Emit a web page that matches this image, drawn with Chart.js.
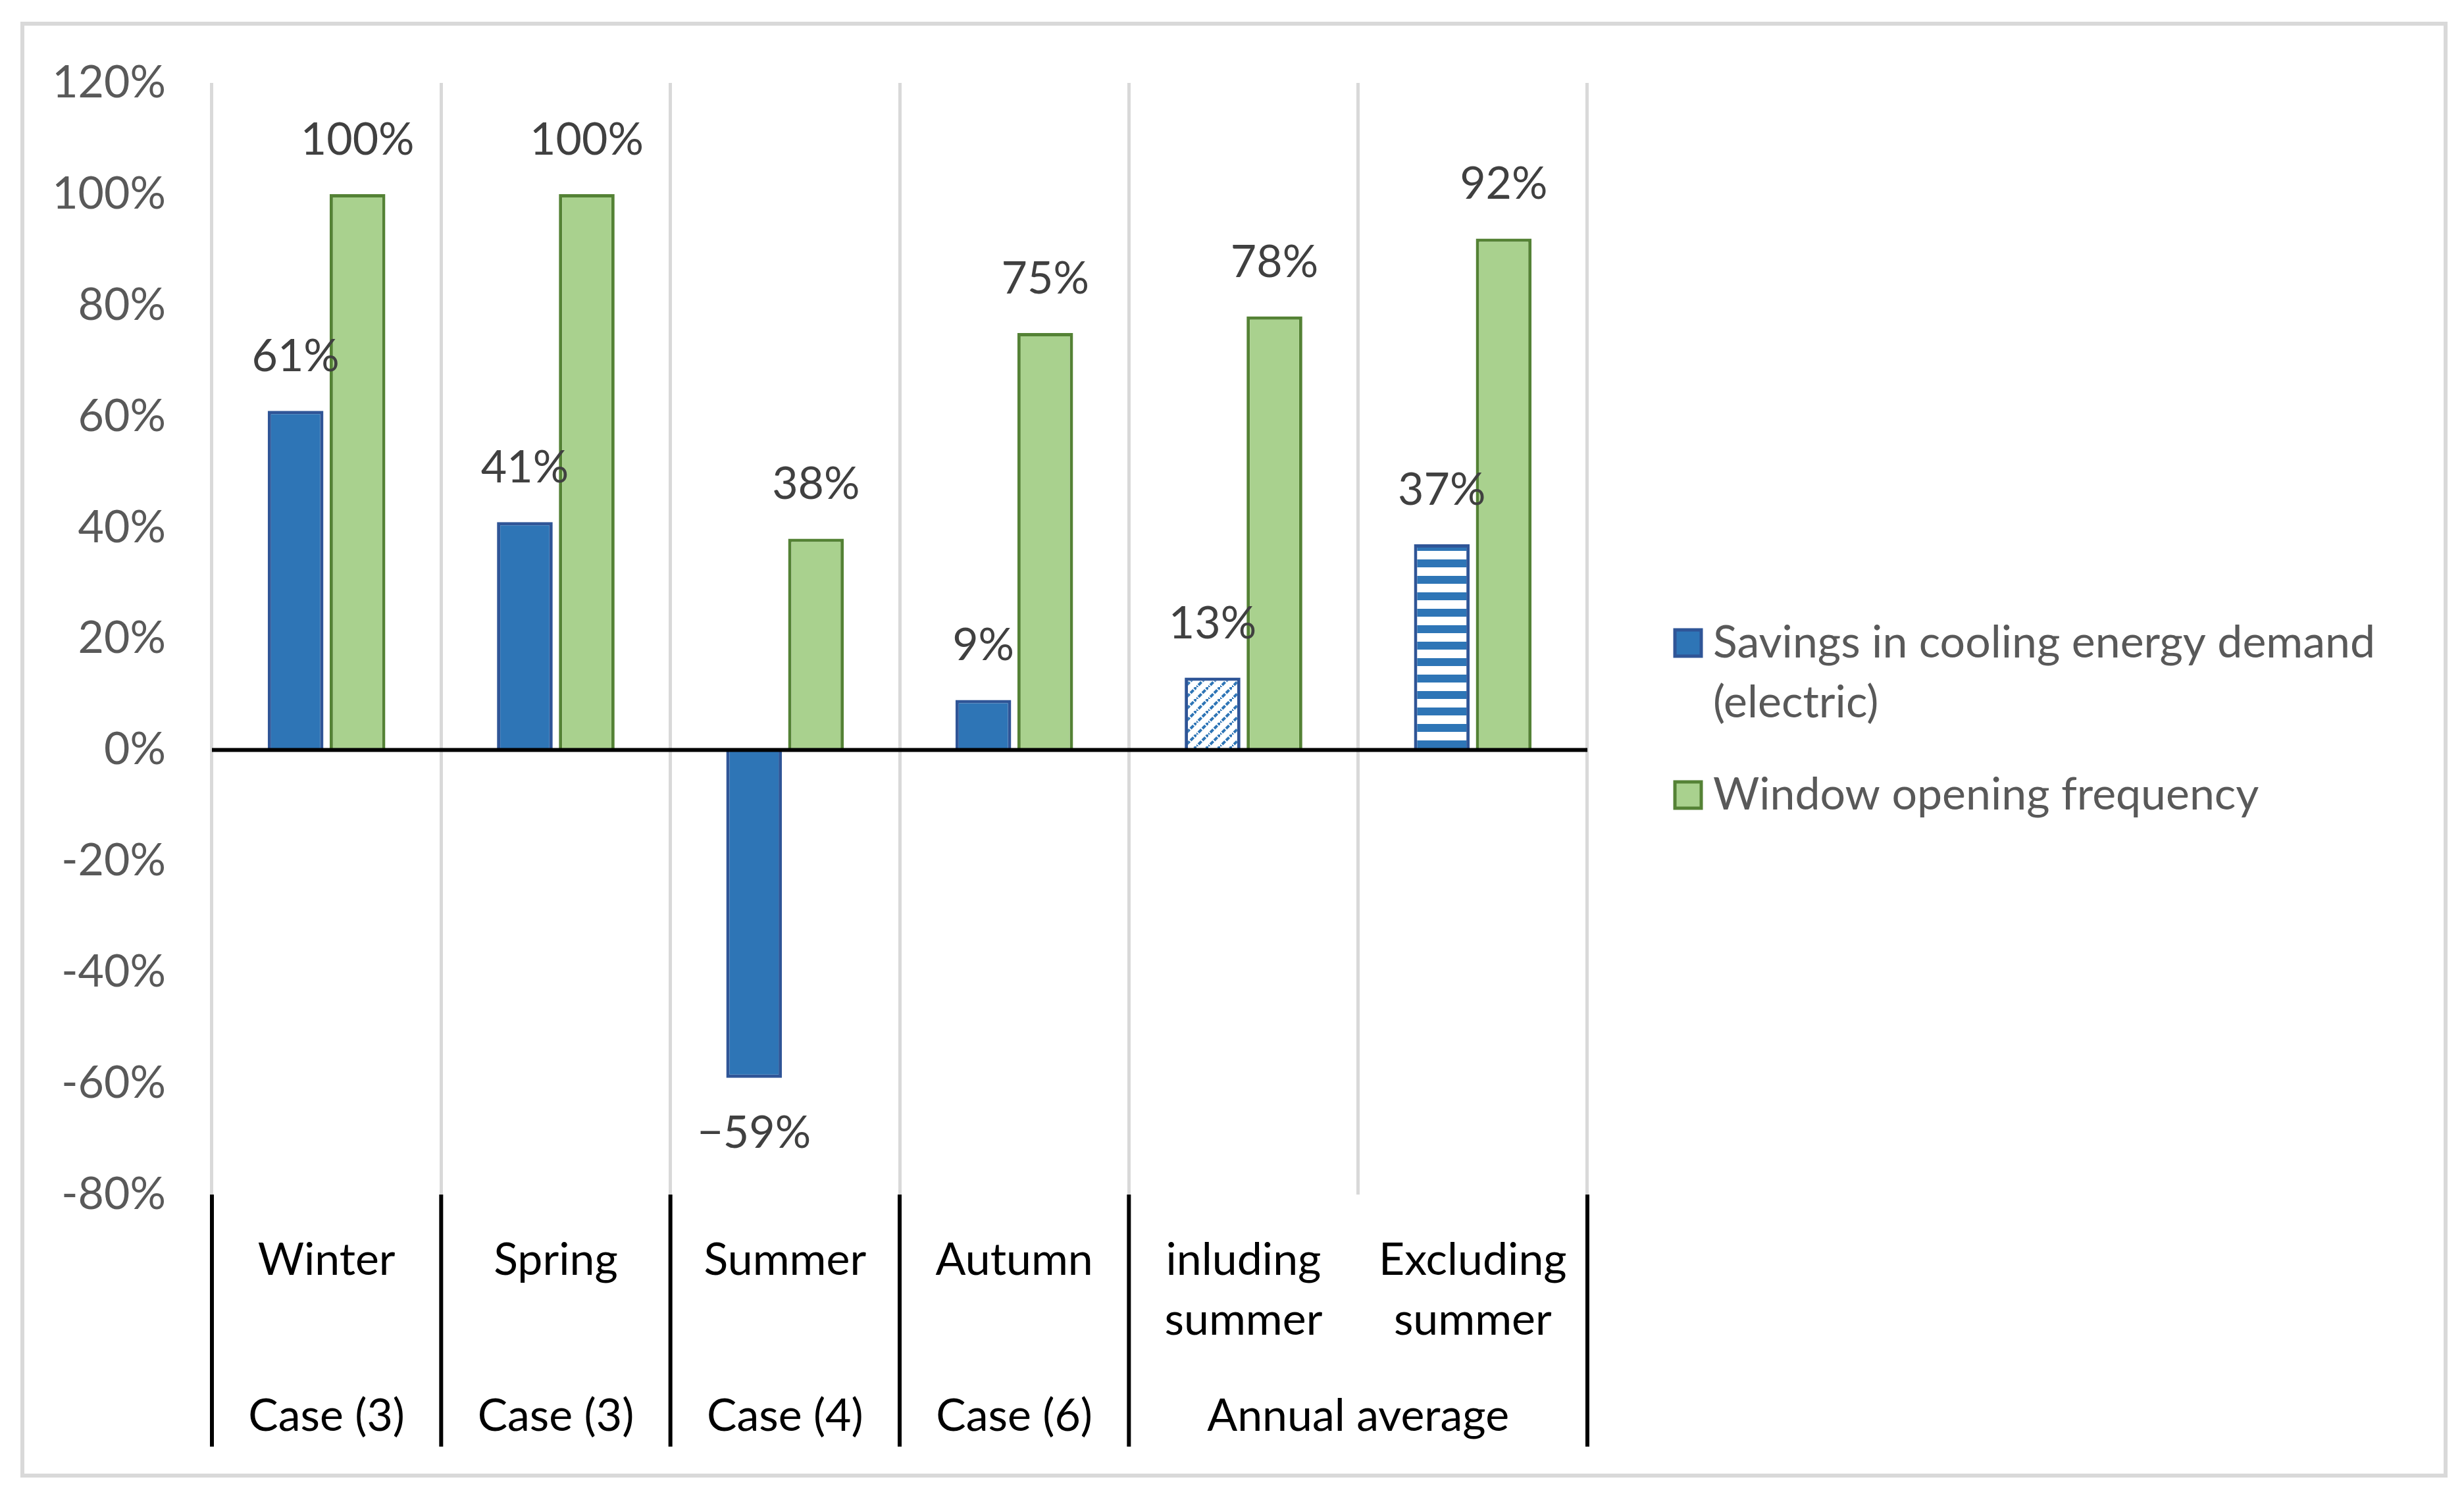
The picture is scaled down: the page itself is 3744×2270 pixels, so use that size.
<!DOCTYPE html>
<html>
<head>
<meta charset="utf-8">
<script src="https://cdn.jsdelivr.net/npm/chart.js@4.4.1/dist/chart.umd.min.js"></script>
<style>
  html, body { margin: 0; padding: 0; background: #fff; }
  #wrap { width: 3744px; height: 2270px; position: relative; }
</style>
</head>
<body>
<div id="wrap"><canvas id="plot-id" width="3744" height="2270"></canvas></div>
<script>
// categories and values
let categories = [['Winter'], ['Spring'], ['Summer'], ['Autumn'], ['inluding', 'summer'], ['Excluding', 'summer']];
let group_labels = ['Case (3)', 'Case (3)', 'Case (4)', 'Case (6)', 'Annual average'];
let group_spans = [1, 1, 1, 1, 2];
let savings_obs = [61, 41, -59, 9, 13, 37];
let window_obs = [100, 100, 38, 75, 78, 92];
let series_names = [['Savings in cooling energy demand', '(electric)'], ['Window opening frequency']];
let y_ticks = [-80, -60, -40, -20, 0, 20, 40, 60, 80, 100, 120];

const FONT = 'Lato, "Open Sans", sans-serif';
const FS = 68;
const BLUE = '#2E75B6', BLUE_EDGE = '#2F5597';
const GREEN = '#A9D18E', GREEN_EDGE = '#548235';

// fill patterns for the two annual average bars
function diag_pattern() {
    let n = 18;
    let c = document.createElement('canvas');
    c.width = n; c.height = n;
    let g = c.getContext('2d');
    g.fillStyle = '#fff';
    g.fillRect(0, 0, n, n);
    g.strokeStyle = BLUE;
    g.lineWidth = 4;
    g.setLineDash([6.5, 2]);
    // main diagonal plus the wrapped corners
    [[-n, n], [0, 0], [n, -n]].forEach(o => {
        g.beginPath();
        g.moveTo(o[0] - 3, o[1] + n + 3);
        g.lineTo(o[0] + n + 3, o[1] - 3);
        g.stroke();
    });
    return g.createPattern(c, 'repeat');
}
function stripe_pattern() {
    let c = document.createElement('canvas');
    c.width = 8; c.height = 25;
    let g = c.getContext('2d');
    g.fillStyle = '#fff';
    g.fillRect(0, 0, 8, 25);
    g.fillStyle = BLUE;
    g.fillRect(0, 0, 8, 12);
    return g.createPattern(c, 'repeat');
}

let ctx0 = document.getElementById('plot-id').getContext('2d');
let blue_fill = [BLUE, BLUE, BLUE, BLUE, diag_pattern(), stripe_pattern()];

function pct(v) {
    return v < 0 ? '\u2212' + (-v) + '%' : v + '%';
}

const frame_plugin = {
    id: 'frame',
    beforeDraw(chart) {
        let c = chart.ctx;
        c.save();
        c.fillStyle = '#fff';
        c.fillRect(0, 0, chart.width, chart.height);
        c.strokeStyle = '#D9D9D9';
        c.lineWidth = 6;
        c.strokeRect(34, 36, 3716 - 34, 2242 - 36);
        c.restore();
    }
};

const labels_plugin = {
    id: 'barlabels',
    afterDatasetsDraw(chart) {
        let c = chart.ctx;
        let area = chart.chartArea;
        c.save();
        // zero line sits on top of the bars
        let y0 = chart.scales.y.getPixelForValue(0);
        c.strokeStyle = '#000';
        c.lineWidth = 6;
        c.beginPath();
        c.moveTo(area.left, y0);
        c.lineTo(area.right, y0);
        c.stroke();

        c.font = FS + 'px ' + FONT;
        c.fillStyle = '#404040';
        c.textAlign = 'center';
        c.textBaseline = 'middle';
        chart.data.datasets.forEach((ds, di) => {
            let meta = chart.getDatasetMeta(di);
            meta.data.forEach((bar, i) => {
                let v = ds.data[i];
                let y = v >= 0 ? bar.y - 82 : bar.y + 84;
                c.fillText(pct(v), bar.x, y);
            });
        });
        c.restore();
    }
};

const groups_plugin = {
    id: 'groups',
    afterDraw(chart) {
        let c = chart.ctx;
        let x = chart.scales.x;
        let area = chart.chartArea;
        let w = (area.right - area.left) / categories.length;
        c.save();
        c.strokeStyle = '#000';
        c.lineWidth = 6;
        c.font = FS + 'px ' + FONT;
        c.fillStyle = '#000';
        c.textAlign = 'center';
        c.textBaseline = 'middle';
        let idx = 0;
        let edges = [x.getPixelForValue(0) - w / 2];
        group_labels.forEach((g, k) => {
            let first = idx, last = idx + group_spans[k] - 1;
            let cx = (x.getPixelForValue(first) + x.getPixelForValue(last)) / 2;
            c.fillText(g, cx, 2152);
            edges.push(x.getPixelForValue(last) + w / 2);
            idx += group_spans[k];
        });
        edges.forEach(e => {
            c.beginPath();
            c.moveTo(e, area.bottom);
            c.lineTo(e, 2198);
            c.stroke();
        });
        c.restore();
    }
};

const legend_plugin = {
    id: 'sidelegend',
    afterDraw(chart) {
        let c = chart.ctx;
        c.save();
        c.font = FS + 'px ' + FONT;
        c.textBaseline = 'middle';
        c.textAlign = 'left';
        let tops = [977, 1208];
        chart.data.datasets.forEach((ds, di) => {
            let cy = tops[di];
            c.fillStyle = di == 0 ? BLUE : GREEN;
            c.strokeStyle = di == 0 ? BLUE_EDGE : GREEN_EDGE;
            c.lineWidth = 5;
            c.fillRect(2545, cy - 20, 40, 40);
            c.strokeRect(2545, cy - 20, 40, 40);
            c.fillStyle = '#595959';
            series_names[di].forEach((line, li) => {
                c.fillText(line, 2603, cy + li * 91);
            });
        });
        c.restore();
    }
};

var chart = new Chart(ctx0, {
    type: 'bar',
    data: {
        labels: categories,
        datasets: [
            {
                label: series_names[0].join(' '),
                data: savings_obs,
                backgroundColor: blue_fill,
                borderColor: BLUE_EDGE,
                borderWidth: 5,
                categoryPercentage: 0.54,
                barPercentage: 0.9
            },
            {
                label: series_names[1].join(' '),
                data: window_obs,
                backgroundColor: GREEN,
                borderColor: GREEN_EDGE,
                borderWidth: 5,
                categoryPercentage: 0.54,
                barPercentage: 0.9
            }
        ]
    },
    options: {
        responsive: false,
        animation: false,
        devicePixelRatio: 1,
        layout: { padding: { left: 0, top: 126, right: 3744 - 2412, bottom: 0 } },
        scales: {
            x: {
                offset: true,
                grid: { offset: true, color: '#D9D9D9', lineWidth: 5, drawTicks: false },
                border: { display: false },
                ticks: {
                    color: '#000',
                    padding: 55,
                    font: { family: FONT, size: FS, lineHeight: 91 / FS },
                    maxRotation: 0, autoSkip: false
                },
                afterFit: s => { s.height = 455; }
            },
            y: {
                min: -80,
                max: 120,
                afterBuildTicks: s => { s.ticks = y_ticks.map(v => ({ value: v })); },
                grid: { display: false, drawTicks: false },
                border: { display: false },
                ticks: {
                    color: '#595959',
                    padding: 70,
                    font: { family: FONT, size: FS },
                    callback: v => v + '%'
                },
                afterFit: s => { s.width = 322; }
            }
        },
        plugins: {
            legend: { display: false },
            tooltip: { enabled: false },
            title: { display: false }
        }
    },
    plugins: [frame_plugin, labels_plugin, groups_plugin, legend_plugin]
});
</script>
</body>
</html>
